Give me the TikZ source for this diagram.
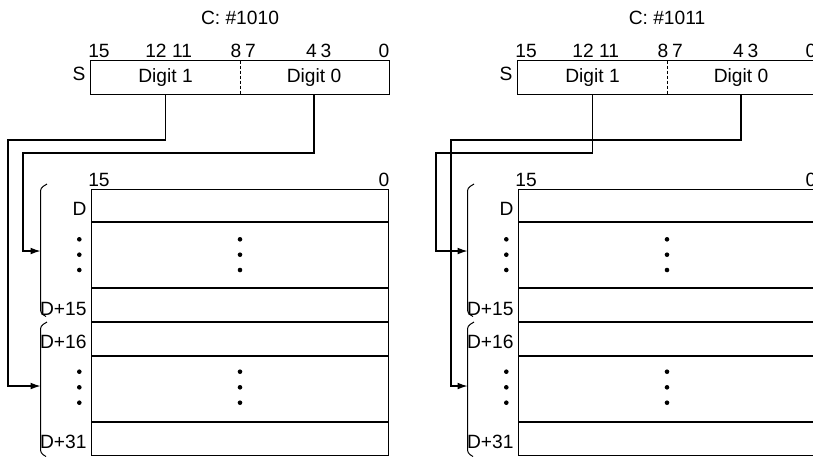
\documentclass[tikz,border=0pt]{standalone}
\usepackage{fontspec}
\setmainfont{Liberation Sans}
\usetikzlibrary{arrows.meta}

\tikzset{
  lbl/.style={inner sep=0pt,anchor=base},
  field/.style={minimum width=74.5pt,minimum height=16.5pt,inner sep=0pt},
  conn/.style={line width=0.55pt,-{Latex[length=5pt,width=3.4pt]}},
  rowsep/.style={line width=0.8pt},
}

\begin{document}
\begin{tikzpicture}[x=0.5pt,y=-0.5pt,line width=0.5pt,font=\fontsize{9.6}{12}\selectfont]
  \useasboundingbox (0,0) rectangle (813,457);
  \clip (0,0) rectangle (813,457);
  % two panels: source word S and destination block D
  \foreach \px/\code/\nm in {0/1010/L,427/1011/R}{
    \begin{scope}[shift={(\px,0)}]
      \node[lbl] (\nm-code) at (240,24) {C: \#\code};
      \foreach \b/\bx in {15/99,12/156,11/182,8/236,7/250.5,4/311.5,3/326,0/384}
        \node[lbl] (\nm-bit\b) at (\bx,57) {\b};
      \node[field] (\nm-hi) at (165.5,77.5) {Digit 1};
      \node[field] (\nm-lo) at (314,77.5) {Digit 0};
      \draw (\nm-hi.north west) rectangle (\nm-lo.south east);
      \draw[dash pattern=on 1.5pt off 1pt] (\nm-hi.north east) -- (\nm-hi.south east);
      \node[lbl,anchor=base east] (\nm-s) at (86,80) {S};
      % destination words
      \node[lbl] (\nm-top15) at (99,186) {15};
      \node[lbl] (\nm-top0) at (384,186) {0};
      \draw (91,189) rectangle (388,455);
      \foreach \ry in {222,288,322,356,422}
        \draw[rowsep] (91,\ry) -- (388,\ry);
      \node[lbl,anchor=base east] (\nm-d0) at (87,215) {D};
      \node[lbl,anchor=base east] (\nm-d15) at (87,315) {D+15};
      \node[lbl,anchor=base east] (\nm-d16) at (87,348) {D+16};
      \node[lbl,anchor=base east] (\nm-d31) at (87,448) {D+31};
      \foreach \dy in {239.3,254.7,270,371.7,387.3,402.7}{
        \fill (79.3,\dy) circle[radius=1.15pt];
        \fill (240,\dy) circle[radius=1.15pt];
      }
      % block brackets
      \draw[rounded corners=1.5pt] (47,184) -- (40.5,188) -- (40.5,313) -- (46,316.5);
      \draw[rounded corners=1.5pt] (47,322) -- (40.5,326) -- (40.5,453) -- (46,456.5);
      \coordinate (\nm-blk1) at (40.5,251);
      \coordinate (\nm-blk2) at (40.5,386);
    \end{scope}
  }
  % digit routing
  \draw[conn] (L-hi.south) |- (8,140) |- (L-blk2);
  \draw[conn] (L-lo.south) |- (23,153) |- (L-blk1);
  \draw[conn] (R-hi.south) |- (436,153) |- (R-blk1);
  \draw[conn] (R-lo.south) |- (451,140) |- (R-blk2);
\end{tikzpicture}
\end{document}
